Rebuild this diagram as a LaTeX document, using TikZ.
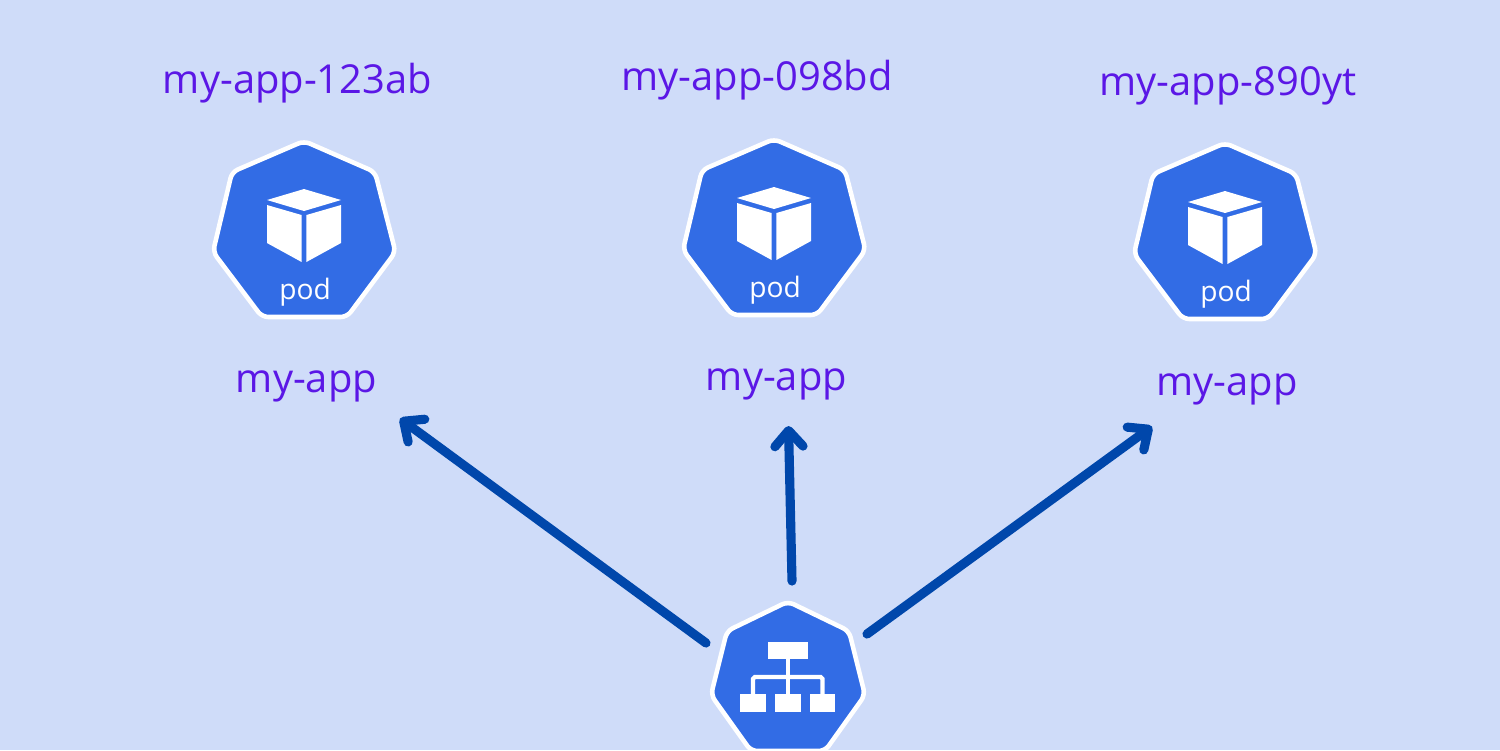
\documentclass[tikz,border=0pt]{standalone}
\usepackage{fontspec}
\setmainfont{Open Sans}
\usetikzlibrary{arrows.meta}

\definecolor{bgblue}{HTML}{CFDCF9}
\definecolor{kubeblue}{HTML}{326CE5}
\definecolor{labelpurple}{HTML}{5B17E6}
\definecolor{flowblue}{HTML}{0047AB}

\tikzset{
  hept/.style={fill=kubeblue,draw=white,line width=1.3pt,rounded corners=1.8pt},
  applabel/.style={text=labelpurple,font=\fontsize{11.35}{13}\selectfont,inner sep=0pt},
  podtext/.style={text=white,font=\fontsize{8}{10}\selectfont,inner sep=0pt},
  flow/.style={draw=flowblue,line width=2.6pt,line cap=round,
               -{Straight Barb[length=4.5pt,width=8pt,round,line width=2.6pt]}},
  pics/pod/.style={code={
    \draw[hept] (0,-99) -- (71,-68) -- (91.5,12) -- (43,77) -- (-42,77) -- (-91,12) -- (-72,-68) -- cycle;
    \fill[white] (0,-51) -- (37,-40) -- (0,-29) -- (-37,-40) -- cycle;
    \fill[white] (-37,-35) -- (-2.4,-25) -- (-2.4,22) -- (-37,3) -- cycle;
    \fill[white] (37,-35) -- (2.4,-25) -- (2.4,22) -- (37,3) -- cycle;
    \node[podtext] (-text) at (1,52) {pod};
  }}
}

\begin{document}
\begin{tikzpicture}[x=0.01cm,y=-0.01cm]
  \useasboundingbox[fill=bgblue] (0,0) rectangle (1500,750);

  % pods
  \pic (podA) at (304,240) {pod};
  \pic (podB) at (774,238) {pod};
  \pic (podC) at (1225,242) {pod};

  % names above and labels below
  \node[applabel] (nameA) at (297.5,83) {my-app-123ab};
  \node[applabel] (nameB) at (757,80) {my-app-098bd};
  \node[applabel] (nameC) at (1228,86) {my-app-890yt};
  \node[applabel] (appA) at (306.5,386) {my-app};
  \node[applabel] (appB) at (776.5,384) {my-app};
  \node[applabel] (appC) at (1227,389) {my-app};

  % service
  \draw[hept] (788,601.5) -- (849,631) -- (865,695) -- (825,751) -- (751,751) -- (711,695) -- (727,631) -- cycle;
  \fill[white] (767.7,641.7) rectangle (808,659.3);
  \fill[white] (740.3,694.3) rectangle (765.7,712.3);
  \fill[white] (775,694.3) rectangle (800.7,712.3);
  \fill[white] (809.7,694.3) rectangle (835.3,712.3);
  \draw[white,line width=1.2pt,rounded corners=0.5pt] (753,695) -- (753,677) -- (822.5,677) -- (822.5,695);
  \draw[white,line width=1.2pt] (788,659) -- (788,695);

  % arrow ends
  \coordinate (tailA) at (706,643);
  \coordinate (tipA) at (400,418.5);
  \coordinate (tailB) at (792,581);
  \coordinate (tipB) at (788.5,426);
  \coordinate (tailC) at (867,634);
  \coordinate (tipC) at (1152,426.5);

  \draw[flow] (tailA) -- (tipA);
  \draw[flow] (tailB) -- (tipB);
  \draw[flow] (tailC) -- (tipC);
\end{tikzpicture}
\end{document}
